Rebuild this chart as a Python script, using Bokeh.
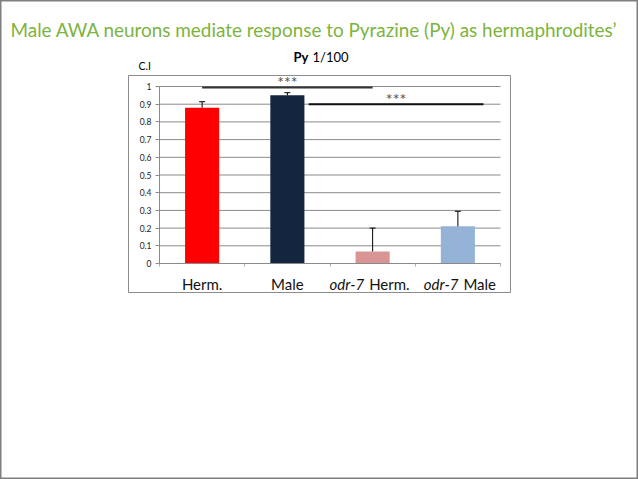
from bokeh.plotting import figure
from bokeh.models import Range1d, FixedTicker
from bokeh.core.properties import value
from bokeh.embed import file_html
from bokeh.resources import INLINE

# ---------------- data ----------------
categories = ["Herm.", "Male", "odr-7 Herm.", "odr-7 Male"]
strain_labels = ["", "", "odr-7", "odr-7"]
sex_labels = ["Herm.", "Male", "Herm.", "Male"]
ci_values = [0.88, 0.95, 0.068, 0.21]
ci_error_tops = [0.914, 0.965, 0.20, 0.295]
bar_colors = ["#FF0000", "#14253F", "#D99594", "#95B3D7"]
y_ticks = [0, 0.1, 0.2, 0.3, 0.4, 0.5, 0.6, 0.7, 0.8, 0.9, 1]
y_tick_labels = ["0", "0.1", "0.2", "0.3", "0.4", "0.5", "0.6", "0.7", "0.8", "0.9", "1"]
sig_starts = [0.5, 1.75]      # category positions (bar centres at i + 0.5)
sig_ends = [2.5, 3.8]
sig_levels = [0.995, 0.9]
sig_marks = ["***", "***"]
title_text = "Male AWA neurons mediate response to Pyrazine (Py) as hermaphrodites\u2019"
subtitle_bold = "Py"
subtitle_rest = "1/100"
y_title = "C.I"

FONT = "Lato"

# ---------------- layout (page pixels) ----------------
FIG_W, FIG_H = 638, 479
BOX_L, BOX_R, BOX_T, BOX_B = 128, 510, 75, 292   # chart box
X0_PX, X_PER = 159.0, 85.25      # page x of x=0 and px per category
Y0_PX, Y_PER = 263.0, 177.0      # page y of y=0 and px per unit


def dx(px):
    return (px - X0_PX) / X_PER


def dy(py):
    return (Y0_PX - py) / Y_PER


p = figure(
    width=FIG_W, height=FIG_H,
    x_range=Range1d(dx(0), dx(FIG_W)),
    y_range=Range1d(dy(FIG_H), dy(0)),
    output_backend="svg", toolbar_location=None,
    min_border=0,
    background_fill_color="white", border_fill_color="white",
)
p.outline_line_color = "#7F7F7F"
p.outline_line_width = 2
p.xgrid.visible = False
p.ygrid.visible = False

n = len(categories)
xs = [i + 0.5 for i in range(n)]

# chart box
p.quad(left=[dx(BOX_L)], right=[dx(BOX_R)], top=[dy(BOX_T)], bottom=[dy(BOX_B)],
       fill_color=None, line_color="#8C8C8C", line_width=1)

# horizontal gridlines (only across the category span)
grid_y = [t for t in y_ticks if t > 0]
p.segment(x0=[0] * len(grid_y), x1=[n] * len(grid_y), y0=grid_y, y1=grid_y,
          line_color="#8A8A8A", line_width=1)

# bars
p.vbar(x=xs, top=ci_values, bottom=0, width=0.4, fill_color=bar_colors, line_color=None)

# error bars (upper only, with cap)
p.segment(x0=xs, x1=xs, y0=ci_values, y1=ci_error_tops, line_color="black", line_width=1)
cap = 0.035
p.segment(x0=[x - cap for x in xs], x1=[x + cap for x in xs], y0=ci_error_tops,
          y1=ci_error_tops, line_color="black", line_width=1)

# significance bars
p.segment(x0=sig_starts, x1=sig_ends, y0=sig_levels, y1=sig_levels,
          line_color=["#333333", "#111111"], line_width=2)
star_x = [(a + b) / 2 for a, b in zip(sig_starts, sig_ends)]
star_y = [lv + 6 / Y_PER for lv in sig_levels]
p.text(x=star_x, y=star_y, text=sig_marks, text_align="center", text_baseline="middle",
       text_font=value(FONT), text_font_size="16px", text_color="#505050")

# axes
yax = p.yaxis[0]
yax.fixed_location = 0
yax.ticker = FixedTicker(ticks=y_ticks)
yax.major_label_overrides = {t: l for t, l in zip(y_ticks, y_tick_labels)}
yax.bounds = (0, 1)
yax.minor_tick_line_color = None
yax.major_tick_in = 0
yax.major_tick_out = 4
yax.axis_line_color = "#8A8A8A"
yax.major_tick_line_color = "#8A8A8A"
yax.major_label_text_font = FONT
yax.major_label_text_font_size = "8.5px"
yax.major_label_text_color = "#222222"
yax.major_label_standoff = 4

xax = p.xaxis[0]
xax.fixed_location = 0
xax.ticker = FixedTicker(ticks=list(range(n + 1)))
xax.major_label_overrides = {i: "" for i in range(n + 1)}
xax.bounds = (0, n)
xax.minor_tick_line_color = None
xax.major_tick_in = 0
xax.major_tick_out = 3
xax.axis_line_color = "#8A8A8A"
xax.major_tick_line_color = "#AAAAAA"

# category labels (italic strain + upright sex)
label_y = dy(283.5)
plain_x = [x for x, s in zip(xs, strain_labels) if not s]
plain_t = [c for c, s in zip(categories, strain_labels) if not s]
p.text(x=plain_x, y=[label_y] * len(plain_x), text=plain_t, text_align="center",
       text_baseline="alphabetic", text_font=value(FONT), text_font_size="15px",
       text_color="#111111")
junction = {2: -6, 3: 3}
for i, s in enumerate(strain_labels):
    if not s:
        continue
    j = junction[i]
    p.text(x=[xs[i]], y=[label_y], text=[s], text_align="right",
           text_baseline="alphabetic", x_offset=j - 2.5, text_font=value(FONT),
           text_font_size="15px", text_font_style="italic", text_color="#111111")
    p.text(x=[xs[i]], y=[label_y], text=[sex_labels[i]], text_align="left",
           text_baseline="alphabetic", x_offset=j + 2.5, text_font=value(FONT),
           text_font_size="15px", text_color="#111111")

# texts above the chart box
p.text(x=[dx(10)], y=[dy(29)], text=[title_text], text_font=value(FONT),
       text_font_size="18.9px", text_color="#7DB33F", text_align="left",
       text_baseline="alphabetic")
p.text(x=[dx(293)], y=[dy(56.7)], text=[subtitle_bold], text_font=value(FONT),
       text_font_size="13px", text_font_style="bold", text_color="black",
       text_align="left", text_baseline="alphabetic")
p.text(x=[dx(312)], y=[dy(56.7)], text=[subtitle_rest], text_font=value(FONT),
       text_font_size="13px", text_color="black", text_align="left",
       text_baseline="alphabetic")
p.text(x=[dx(138)], y=[dy(65)], text=[y_title], text_font=value(FONT),
       text_font_size="10.5px", text_color="black", text_align="left",
       text_baseline="alphabetic")

open("out.html", "w").write(file_html(p, INLINE))
